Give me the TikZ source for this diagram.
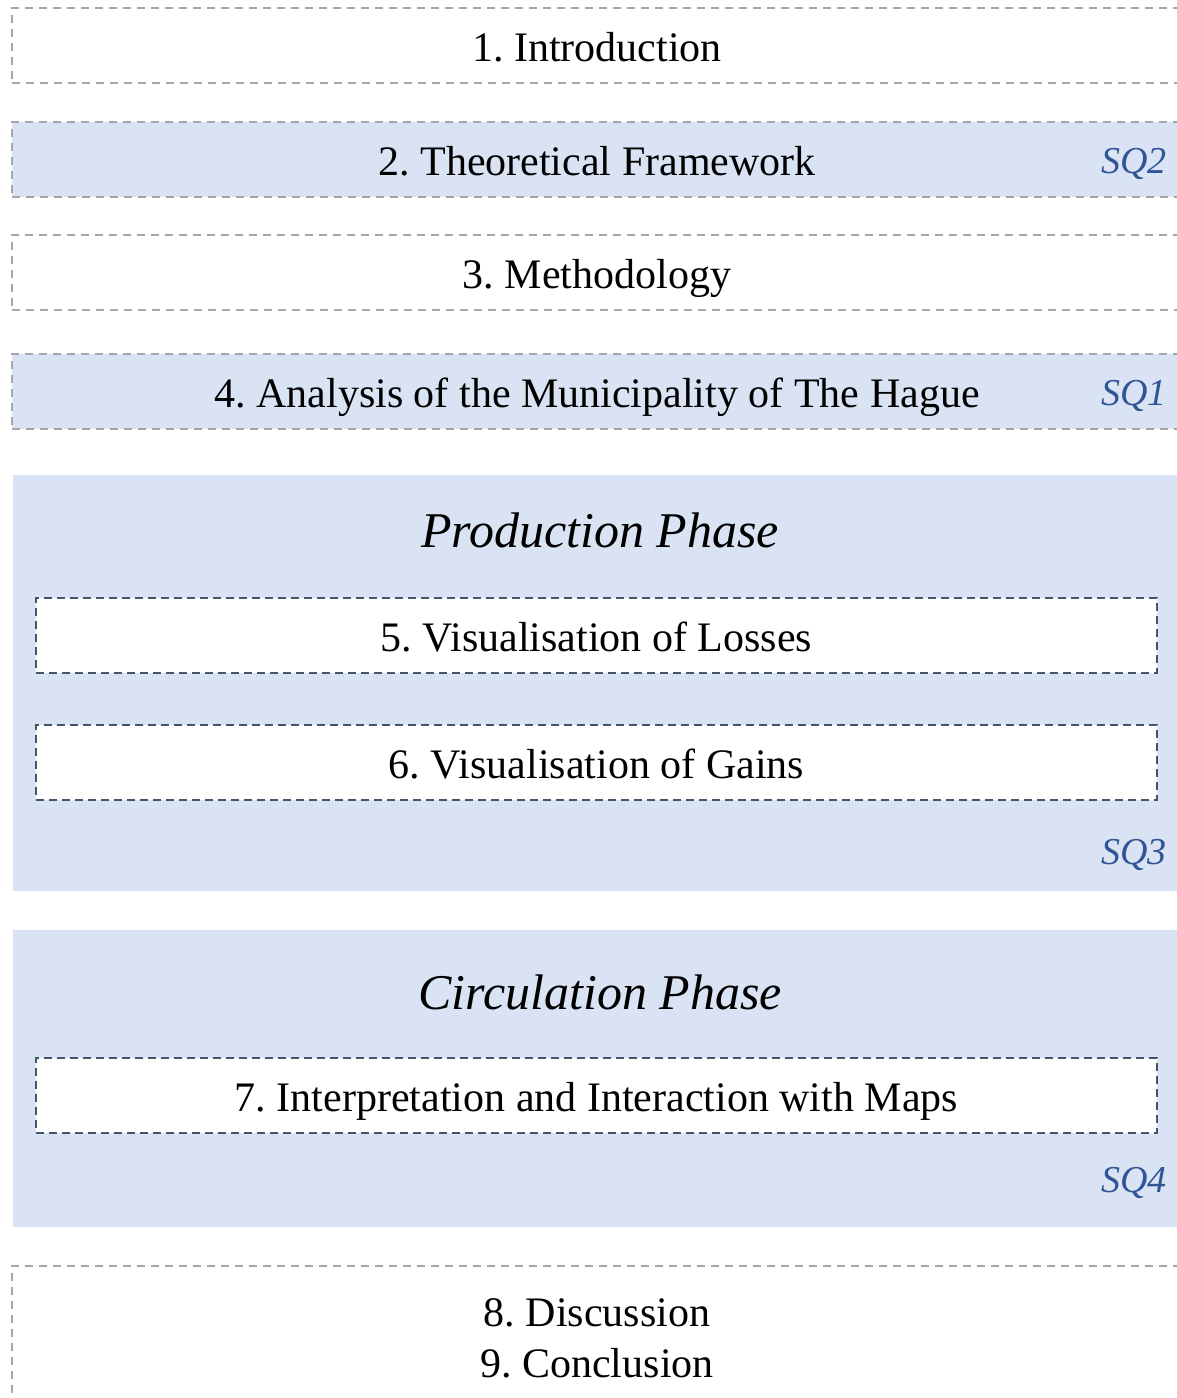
\documentclass[tikz,border=0pt]{standalone}
\usepackage{fontspec}
\setmainfont{Liberation Serif}
\frenchspacing
\definecolor{panelfill}{HTML}{DAE3F3}
\definecolor{greydash}{HTML}{A6A6A6}
\definecolor{navydash}{HTML}{44546A}
\definecolor{sqblue}{HTML}{2F5597}
\tikzset{
  chapterbase/.style={draw=greydash, line width=2pt, dash pattern=on 8pt off 6pt,
    minimum width=1170pt, inner sep=0pt,
    font=\fontsize{42}{50}\selectfont, text=black},
  oneline/.style={minimum height=75pt, text height=32pt, text depth=0pt},
  chapter/.style={chapterbase, oneline},
  shaded/.style={chapter, fill=panelfill},
  subchapter/.style={draw=navydash, fill=white, line width=2pt, dash pattern=on 8pt off 5pt,
    minimum width=1121pt, inner sep=0pt, oneline,
    font=\fontsize{42}{50}\selectfont, text=black},
  phasepanel/.style={fill=panelfill, draw=none},
  phasetitle/.style={font=\fontsize{50}{60}\selectfont\itshape, text=black},
  sqlabel/.style={font=\fontsize{38}{44}\selectfont\itshape, text=sqblue, anchor=east, inner sep=0pt}
}
\begin{document}
\begin{tikzpicture}[x=1pt, y=-1pt]
  \useasboundingbox (0,0) rectangle (1176,1398);
  \fill[white] (0,0) rectangle (1176,1398);

  % introductory chapters
  \node[chapter] (intro) at (597,45.5) {1. Introduction};
  \node[shaded] (theory) at (597,159) {2. Theoretical Framework};
  \node[sqlabel] (sq2) at (1167,164) {SQ2};
  \node[chapter] (method) at (597,272) {3. Methodology};
  \node[shaded] (analysis) at (597,391.5) {4. Analysis of the Municipality of The Hague};
  \node[sqlabel] (sq1) at (1167,396) {SQ1};

  % production phase
  \fill[phasepanel] (13,475) rectangle (1190,891);
  \node[phasetitle] (prod) at (600,530) {Production Phase};
  \node[subchapter] (losses) at (596.5,635.5) {5. Visualisation of Losses};
  \node[subchapter] (gains) at (596.5,762) {6. Visualisation of Gains};
  \node[sqlabel] (sq3) at (1167,855) {SQ3};

  % circulation phase
  \fill[phasepanel] (13,930) rectangle (1190,1227);
  \node[phasetitle] (circ) at (600,992) {Circulation Phase};
  \node[subchapter] (maps) at (596.5,1095) {7. Interpretation and Interaction with Maps};
  \node[sqlabel] (sq4) at (1167,1183) {SQ4};

  % closing chapters
  \node[chapterbase, minimum height=145pt, align=center, font=\fontsize{42}{51}\selectfont]
    (closing) at (597,1338) {8. Discussion\\9. Conclusion};
\end{tikzpicture}
\end{document}
